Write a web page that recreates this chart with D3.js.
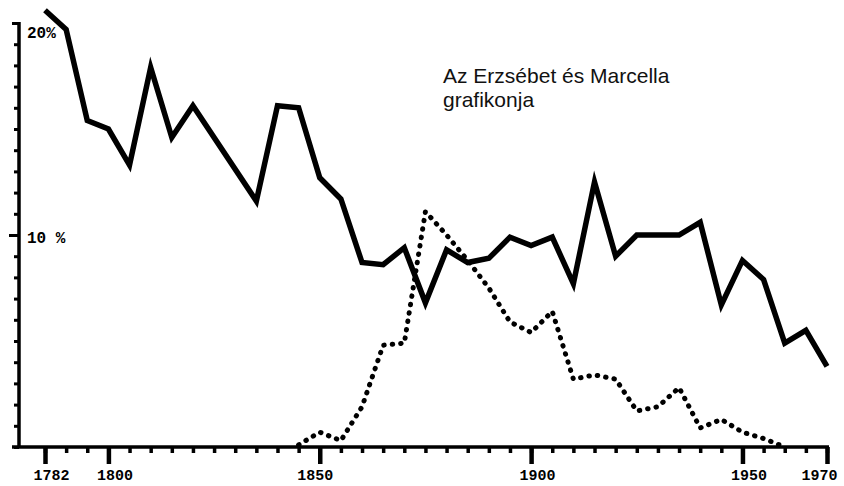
<!DOCTYPE html>
<html>
<head>
<meta charset="utf-8">
<script src="https://cdn.jsdelivr.net/npm/d3@7"></script>
<style>
  body { margin: 0; background: #fff; }
  svg { display: block; }
  .tick text { font-family: "Liberation Mono", "DejaVu Sans Mono", monospace; }
</style>
</head>
<body>
<svg id="chart" width="844" height="486"></svg>
<script>
// one entry per plotted period (the drawing's evenly spaced columns)
var periods = [1782, 1788, 1794, 1800, 1805, 1810, 1815, 1820, 1825, 1830,
               1835, 1840, 1845, 1850, 1855, 1860, 1865, 1870, 1875, 1880,
               1885, 1890, 1895, 1900, 1905, 1910, 1915, 1920, 1925, 1930,
               1935, 1940, 1945, 1950, 1955, 1960, 1965, 1970];

// solid line, percent (null = no corner drawn there)
var solidValues = [20.6, 19.7, 15.4, 15.0, 13.3, 17.9, 14.6, 16.1, null, null,
                   11.6, 16.1, 16.0, 12.7, 11.7, 8.7, 8.6, 9.4, 6.8, 9.3,
                   8.7, 8.9, 9.9, 9.5, 9.9, 7.7, 12.5, 9.0, 10.0, 10.0,
                   10.0, 10.6, 6.7, 8.8, 7.9, 4.9, 5.5, 3.8];

// dotted line, percent
var dottedValues = [null, null, null, null, null, null, null, null, null, null,
                    null, null, 0.1, 0.7, 0.3, 1.9, 4.8, 4.9, 11.1, 10.0,
                    8.8, 7.5, 5.9, 5.4, 6.4, 3.2, 3.4, 3.2, 1.7, 1.9,
                    2.8, 0.9, 1.3, 0.7, 0.4, 0.0, null, null];

var yearLabels = [1782, 1800, 1850, 1900, 1950, 1970];
var yLabelValues = [20, 10];
var yLabelTexts = ["20%", "10 %"];
var titleLines = ["Az Erzsébet és Marcella", "grafikonja"];

var svg = d3.select("#chart");

var x = d3.scalePoint().domain(periods).range([45, 827]);
var y = d3.scaleLinear().domain([0, 20]).range([447, 23]);
var axisX = 19;

// x axis: small ticks for every period
var gx = svg.append("g").attr("transform", "translate(0," + y(0) + ")");
gx.call(d3.axisBottom(x).tickValues(periods).tickSizeInner(6).tickSizeOuter(0).tickFormat(""));
gx.select(".domain").remove();
gx.selectAll(".tick line").attr("stroke", "#000").attr("stroke-width", 3.5);

// x axis: long ticks with year labels
var gx2 = svg.append("g").attr("transform", "translate(0," + y(0) + ")");
gx2.call(d3.axisBottom(x).tickValues(yearLabels).tickSizeInner(17).tickSizeOuter(0).tickPadding(5));
gx2.select(".domain").remove();
gx2.selectAll(".tick line").attr("stroke", "#000").attr("stroke-width", 4.5);
gx2.selectAll(".tick text")
    .attr("fill", "#000")
    .attr("font-size", 15)
    .attr("font-weight", "bold")
    .attr("dx", function(d) { return d === 1970 ? -8 : (d === 1850 ? -5 : 6); });

svg.append("line")
    .attr("x1", 12).attr("x2", x(1970) + 2)
    .attr("y1", y(0)).attr("y2", y(0))
    .attr("stroke", "#000").attr("stroke-width", 3.5);

// y axis, a tick every percent pointing left
var gy = svg.append("g").attr("transform", "translate(" + axisX + ",0)");
gy.call(d3.axisLeft(y).tickValues(d3.range(0, 21)).tickSizeInner(5).tickSizeOuter(0).tickFormat(""));
gy.select(".domain").remove();
gy.selectAll(".tick line")
    .attr("stroke", "#000")
    .attr("stroke-width", 3)
    .attr("x2", function(d) { return d === 10 ? -10 : (d === 20 ? -7 : -5); });

svg.append("line")
    .attr("x1", axisX).attr("x2", axisX)
    .attr("y1", y(20) - 1).attr("y2", y(0))
    .attr("stroke", "#000").attr("stroke-width", 3.5);

svg.selectAll(".ylab")
    .data(yLabelValues)
    .enter()
    .append("text")
    .attr("class", "ylab")
    .attr("x", axisX + 8)
    .attr("y", function(d) { return y(d) + (d === 20 ? 15 : 8); })
    .attr("font-family", "Liberation Mono, DejaVu Sans Mono, monospace")
    .attr("font-size", 16)
    .attr("font-weight", "bold")
    .text(function(d, i) { return yLabelTexts[i]; });

// lines
function toPoints(values) {
    return periods
        .map(function(p, i) { return {p: p, v: values[i]}; })
        .filter(function(d) { return d.v !== null; });
}

var line = d3.line()
    .x(function(d) { return x(d.p); })
    .y(function(d) { return y(d.v); });

svg.append("path")
    .datum(toPoints(dottedValues))
    .attr("d", line)
    .attr("fill", "none")
    .attr("stroke", "#000")
    .attr("stroke-width", 5)
    .attr("stroke-linecap", "round")
    .attr("stroke-dasharray", "0.5,8");

svg.append("path")
    .datum(toPoints(solidValues))
    .attr("d", line)
    .attr("fill", "none")
    .attr("stroke", "#000")
    .attr("stroke-width", 5.5)
    .attr("stroke-linejoin", "miter")
    .attr("stroke-miterlimit", 6);

// caption
svg.selectAll(".title")
    .data(titleLines)
    .enter()
    .append("text")
    .attr("class", "title")
    .attr("x", 443)
    .attr("y", function(d, i) { return 83 + i * 24; })
    .attr("font-family", "Liberation Sans, Arial, sans-serif")
    .attr("font-size", 21)
    .attr("fill", "#111")
    .text(function(d) { return d; });
</script>
</body>
</html>
